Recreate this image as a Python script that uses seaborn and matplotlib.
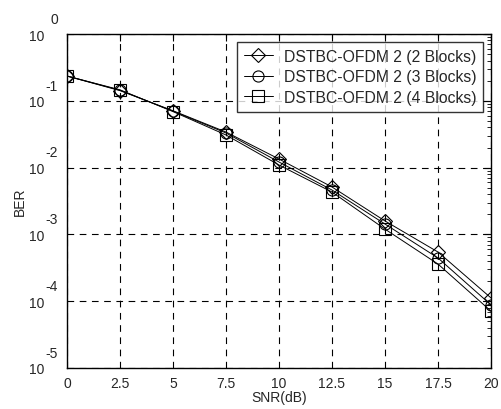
import numpy as np
import pandas as pd
import matplotlib
matplotlib.use("Agg")
import matplotlib.pyplot as plt
import seaborn as sns
from matplotlib.ticker import LogLocator, NullFormatter, FixedLocator

# dados
snr = [0, 2.5, 5, 7.5, 10, 12.5, 15, 17.5, 20]
ber_2blocks = [0.235, 0.142, 0.071, 0.0341, 0.01345, 0.00513, 0.00159, 5.45e-4, 1.12e-4]
ber_3blocks = [0.235, 0.144, 0.070, 0.0330, 0.01213, 0.00462, 0.00143, 4.44e-4, 8.8e-5]
ber_4blocks = [0.235, 0.146, 0.069, 0.0308, 0.01094, 0.00431, 0.00120, 3.6e-4, 7.1e-5]
labels = ['DSTBC-OFDM 2 (2 Blocks)', 'DSTBC-OFDM 2 (3 Blocks)', 'DSTBC-OFDM 2 (4 Blocks)']
markers = ['D', 'o', 's']
xtick_labels = ['0', '2.5', '5', '7.5', '10', '12.5', '15', '17.5', '20']
exponents = [0, -1, -2, -3, -4, -5]

sns.set_style("white")
plt.rcParams['font.family'] = ['Liberation Sans', 'DejaVu Sans']

fig = plt.figure(figsize=(5.01, 4.10), dpi=100)
ax = fig.add_axes([0.1337, 0.1, 0.8463, 0.8146])

for ber, lab, mk in zip([ber_2blocks, ber_3blocks, ber_4blocks], labels, markers):
    df = pd.DataFrame({'SNR': snr, 'BER': ber})
    sns.lineplot(data=df, x='SNR', y='BER', ax=ax, color='black', linewidth=0.7,
                 marker=mk, markersize=8 if mk != 'D' else 7, markerfacecolor='none',
                 markeredgecolor='black', markeredgewidth=0.8, label=lab)

ax.set_yscale('log')
ax.set_xlim(0, 20)
ax.set_ylim(1e-5, 1)
ax.set_xticks(snr)
ax.set_xticklabels(xtick_labels)

# rotulos estilo matlab: "10" e o expoente por cima
ax.yaxis.set_major_locator(FixedLocator([10.0 ** e for e in exponents]))
ax.set_yticklabels(['10'] * len(exponents))
ax.yaxis.set_minor_locator(LogLocator(base=10, subs=np.arange(2, 10), numticks=20))
ax.yaxis.set_minor_formatter(NullFormatter())
for e in exponents:
    ax.annotate(str(e), xy=(0, 10.0 ** e), xycoords=('axes fraction', 'data'),
                xytext=(-6.5, 11), textcoords='offset points', ha='right', va='center',
                fontsize=10)

ax.grid(True, which='major', color='black', linestyle=(0, (6, 5)), linewidth=0.8)
ax.tick_params(axis='both', which='both', direction='in', top=True, right=True,
               labelsize=10, color='black')
ax.tick_params(which='major', length=5)
ax.tick_params(which='minor', length=3)
ax.tick_params(axis='y', which='major', pad=16)
ax.tick_params(axis='x', which='major', pad=6)
for s in ax.spines.values():
    s.set_color('black')
    s.set_linewidth(1)

ax.set_xlabel('SNR(dB)', fontsize=10, labelpad=0)
ax.set_ylabel('BER', fontsize=10, labelpad=2)

leg = ax.legend(loc='upper right', fontsize=11.3, frameon=True, fancybox=False,
                edgecolor='black', borderaxespad=0.5, handlelength=1.8,
                handletextpad=0.7, labelspacing=0.35, borderpad=0.45)
leg.get_frame().set_linewidth(1)

fig.savefig('out.png', dpi=100)
